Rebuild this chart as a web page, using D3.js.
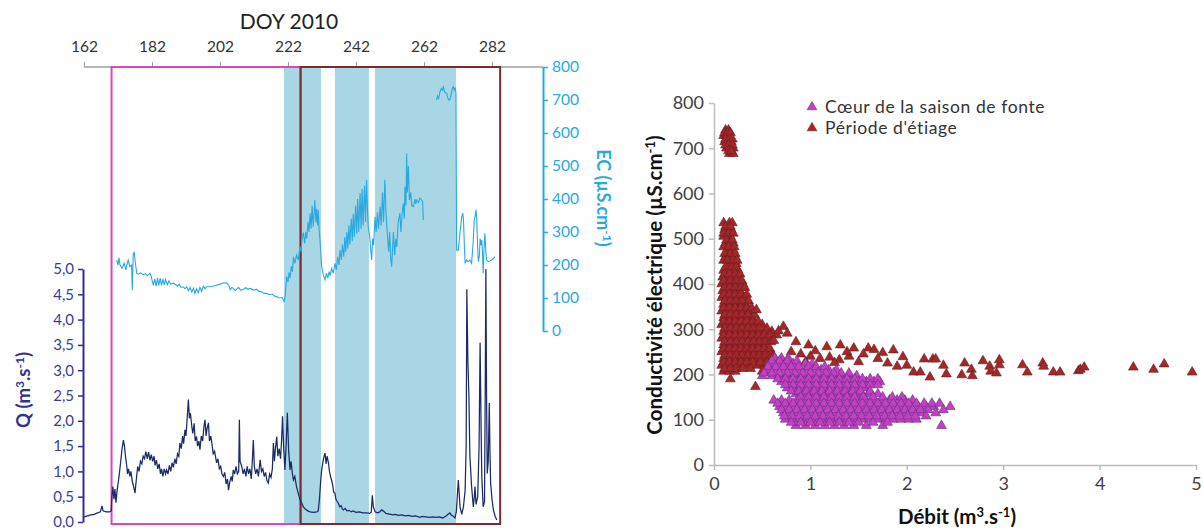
<!DOCTYPE html>
<html><head><meta charset="utf-8">
<script src="https://cdn.jsdelivr.net/npm/d3@7"></script>
<style>body{margin:0;background:#fff}svg{font-family:Lato,"Open Sans",sans-serif}</style>
</head><body>
<script>
// ---------- DATA ----------
const doyTicks = [162,182,202,222,242,262,282];
const qTicks = [0,0.5,1,1.5,2,2.5,3,3.5,4,4.5,5];
const ecTicks = [0,100,200,300,400,500,600,700,800];
const scatXTicks = [0,1,2,3,4,5];
const scatYTicks = [0,100,200,300,400,500,600,700,800];
const bands = [[220.8,231.7],[235.8,245.8],[247.6,271.4]];
const meltPeriod = [170.1,225.7];
const lowPeriod = [225.7,284.4];

const qSeries = [[162,0.1],[163,0.12],[164,0.14],[165,0.15],[166,0.18],[166.8,0.2],[167.3,0.32],[167.6,0.22],[168.5,0.2],[169.5,0.2],[170.0,0.22],[170.2,0.5],[170.5,0.7],[170.8,0.45],[171.1,0.65],[171.4,0.38],[171.7,0.6],[172.0,0.75],[172.4,0.95],[172.8,1.2],[173.2,1.45],[173.6,1.62],[173.9,1.5],[174.2,1.3],[174.5,1.15],[174.8,0.95],[175.1,1.05],[175.5,0.9],[175.8,1.0],[176.2,0.8],[176.6,0.7],[177.0,0.57],[177.4,0.85],[177.8,1.1],[178.2,1.0],[178.6,1.2],[179.0,1.15],[179.4,1.3],[179.8,1.25],[180.2,1.39],[180.6,1.25],[181.0,1.38],[181.4,1.22],[181.8,1.33],[182.2,1.2],[182.6,1.3],[182.9,1.12],[183.3,1.22],[183.7,1.05],[184.1,1.15],[184.5,0.95],[184.8,1.05],[185.2,0.9],[185.6,1.05],[186.0,0.95],[186.3,1.03],[186.7,0.95],[187.1,1.12],[187.5,1.0],[187.9,1.17],[188.3,1.08],[188.7,1.25],[189.1,1.15],[189.5,1.35],[189.9,1.3],[190.2,1.56],[190.6,1.45],[191.0,1.7],[191.3,1.55],[191.7,1.82],[192.0,1.7],[192.3,2.0],[192.7,2.42],[193.0,2.05],[193.3,2.15],[193.7,1.89],[194.0,1.75],[194.4,1.95],[194.7,1.6],[195.1,1.69],[195.4,1.5],[195.8,1.6],[196.1,1.43],[196.5,1.7],[196.9,1.6],[197.3,1.9],[197.6,2.02],[197.9,1.7],[198.2,1.85],[198.6,1.96],[198.9,1.6],[199.3,1.7],[199.6,1.56],[200.0,1.35],[200.4,1.4],[201.0,1.17],[201.4,1.25],[201.8,1.05],[202.2,1.1],[202.6,0.95],[203.0,0.9],[203.4,0.98],[203.8,0.75],[204.2,0.85],[204.5,0.63],[204.9,0.8],[205.3,0.9],[205.6,0.8],[205.9,1.03],[206.3,0.95],[206.7,1.1],[207.1,0.95],[207.5,1.0],[207.7,2.02],[207.9,1.2],[208.4,1.1],[208.8,0.95],[209.2,1.05],[209.6,0.9],[210.0,1.1],[210.4,0.95],[210.8,1.05],[211.2,0.85],[211.5,1.2],[211.8,1.62],[212.1,1.1],[212.5,0.95],[212.9,1.05],[213.3,0.9],[213.8,1.23],[214.2,1.0],[214.6,1.05],[215.0,0.9],[215.4,0.98],[215.8,0.82],[216.2,0.77],[216.6,0.95],[217.0,0.88],[217.4,1.05],[217.7,1.56],[218.0,1.2],[218.3,1.45],[218.7,1.69],[219.0,1.3],[219.4,1.45],[219.8,1.25],[220.1,1.6],[220.4,2.09],[220.7,1.5],[221.1,1.03],[221.5,1.6],[221.8,2.16],[222.2,1.4],[222.6,1.03],[222.9,1.2],[223.3,0.95],[223.6,0.83],[224.0,0.9],[224.5,0.7],[225.0,0.57],[225.5,0.45],[226.0,0.38],[226.5,0.3],[227.0,0.26],[227.8,0.22],[228.5,0.2],[229.5,0.19],[230.5,0.2],[230.9,0.22],[231.3,0.5],[231.6,0.8],[231.9,1.03],[232.3,1.2],[232.6,1.3],[232.9,1.36],[233.2,1.15],[233.5,1.3],[233.9,1.17],[234.2,1.0],[234.5,0.9],[234.8,0.83],[235.1,0.75],[235.4,0.6],[235.8,0.57],[236.1,0.45],[236.5,0.4],[236.8,0.37],[237.2,0.3],[237.6,0.32],[238.0,0.26],[238.3,0.24],[238.8,0.27],[239.3,0.22],[240.0,0.23],[240.6,0.2],[241.2,0.22],[242.0,0.19],[243.0,0.2],[244.0,0.18],[245.1,0.18],[246.0,0.17],[246.5,0.2],[246.8,0.53],[247.1,0.3],[247.6,0.2],[248.3,0.18],[249.0,0.2],[249.5,0.24],[250.0,0.22],[250.8,0.17],[251.5,0.16],[252.2,0.15],[252.9,0.14],[253.5,0.15],[254.5,0.13],[255.5,0.14],[256.5,0.12],[257.5,0.13],[258.5,0.11],[259.5,0.12],[260.8,0.09],[261.5,0.11],[262.5,0.1],[263.5,0.09],[264.5,0.1],[265.5,0.09],[266.5,0.1],[267.5,0.08],[268.5,0.12],[269.0,0.15],[269.6,0.18],[270.0,0.14],[270.5,0.12],[271.1,0.08],[271.5,0.2],[272.1,0.83],[272.6,0.3],[273.1,0.15],[273.6,0.3],[274.1,0.63],[274.4,1.5],[274.6,4.6],[274.9,3.2],[275.2,2.5],[275.5,1.3],[276.0,0.7],[276.5,0.3],[276.8,0.5],[277.0,0.7],[277.3,0.35],[277.8,0.5],[278.2,1.5],[278.5,3.54],[278.8,1.8],[279.0,0.9],[279.4,0.3],[279.8,0.4],[280.0,2.5],[280.2,5.0],[280.4,2.5],[280.6,0.96],[280.9,1.2],[281.2,2.35],[281.4,1.4],[281.6,0.77],[282.0,0.45],[282.4,0.24],[282.9,0.12],[283.4,0.04]];

const ecSeries = [[171.6,215],[172.0,200],[172.3,222],[172.6,200],[173.2,190],[173.8,205],[174.3,185],[174.6,200],[175.0,215],[175.5,195],[176.0,200],[176.2,124],[176.4,200],[176.5,235],[176.8,238],[177.0,215],[177.5,175],[178.0,172],[178.7,176],[179.4,170],[180.0,174],[180.7,168],[181.4,175],[181.8,165],[182.1,150],[182.4,138],[182.8,158],[183.2,136],[183.6,160],[184.0,138],[184.4,160],[184.8,138],[185.2,158],[185.6,140],[186.0,156],[186.5,140],[187.0,152],[187.5,142],[188.3,145],[189.0,140],[189.5,136],[190.0,142],[190.5,132],[191.2,134],[191.7,128],[192.2,134],[192.7,122],[193.2,132],[193.7,118],[194.2,130],[194.6,114],[195.1,128],[195.6,116],[196.1,132],[196.6,120],[197.1,136],[197.6,128],[198.0,134],[199.1,134],[200.5,137],[202.0,142],[203.0,146],[204.0,145],[204.6,138],[205.0,125],[205.5,132],[205.9,129],[206.5,122],[207.0,128],[207.5,132],[208.0,124],[208.9,126],[209.5,131],[210.2,127],[211.0,129],[211.8,124],[212.8,126],[213.5,120],[214.3,118],[215.0,114],[215.7,114],[216.5,110],[217.3,112],[218.0,106],[218.7,104],[219.5,100],[220.2,102],[220.9,89],[221.2,110],[221.6,165],[222.0,148],[222.3,178],[222.6,160],[223.0,196],[223.3,180],[223.6,225],[224.0,205],[224.5,230],[225.0,215],[225.5,255],[225.8,240],[226.2,290],[226.5,296],[226.9,265],[227.2,300],[227.5,280],[227.9,330],[228.2,300],[228.5,357],[228.8,310],[229.1,380],[229.4,316],[229.7,360],[229.9,397],[230.2,330],[230.4,370],[230.7,320],[230.9,367],[231.2,300],[231.4,276],[231.7,230],[231.9,195],[232.4,170],[232.9,155],[233.3,175],[233.7,160],[234.1,180],[234.4,168],[234.8,190],[235.3,175],[235.8,205],[236.2,185],[236.6,225],[237.0,200],[237.3,245],[237.7,215],[238.0,262],[238.4,225],[238.7,285],[239.0,240],[239.3,300],[239.6,250],[239.9,320],[240.2,262],[240.6,340],[240.9,272],[241.2,355],[241.5,285],[241.9,380],[242.2,295],[242.5,400],[242.8,300],[243.2,417],[243.5,310],[243.8,430],[244.1,320],[244.5,440],[244.8,330],[245.1,458],[245.4,360],[245.6,316],[246.0,290],[246.3,250],[246.6,215],[246.9,280],[247.2,260],[247.6,346],[247.9,300],[248.3,360],[248.6,310],[249.1,377],[249.4,320],[249.8,420],[250.1,330],[250.5,458],[250.8,360],[251.2,296],[251.6,240],[251.9,300],[252.2,220],[252.5,195],[252.8,260],[253.0,300],[253.4,230],[253.7,280],[254.0,255],[254.4,330],[254.9,357],[255.2,300],[255.6,360],[255.9,387],[256.2,340],[256.4,437],[256.7,380],[256.9,538],[257.1,420],[257.4,500],[257.7,397],[258.1,420],[258.4,380],[258.9,377],[259.3,400],[259.6,385],[259.9,397],[260.4,390],[260.8,403],[261.3,397],[261.6,392],[261.8,336],[263.5,null],[265.7,700],[266.0,712],[266.3,705],[266.7,725],[267.1,735],[267.4,730],[267.7,740],[268.0,726],[268.3,722],[268.7,720],[269.0,706],[269.3,700],[269.6,700],[269.9,712],[270.3,735],[270.6,740],[270.9,730],[271.2,738],[271.4,720],[271.6,245],[272.1,245],[272.6,300],[273.1,346],[273.4,357],[273.6,340],[273.9,250],[274.1,205],[274.5,215],[275.0,210],[275.5,215],[276.0,205],[276.5,276],[276.8,340],[277.0,346],[277.3,367],[277.5,340],[277.8,250],[278.0,210],[278.3,230],[278.5,280],[278.8,260],[279.0,276],[279.2,240],[279.4,175],[279.7,260],[279.9,296],[280.2,240],[280.4,215],[280.9,210],[281.4,212],[282.0,216],[282.9,225]];

// scatter: rows of [EC, [Q values]]
const etiageRows = [
 [740,[0.12,0.15]],[728,[0.1,0.13,0.16]],[714,[0.11,0.14,0.18]],[700,[0.13,0.17,0.2]],[688,[0.16,0.2]],
 [535,[0.1,0.16,0.19]],[520,[0.11,0.14,0.18]],[505,[0.1,0.17]],[490,[0.12,0.16,0.2]],[475,[0.14,0.2]],
 [460,[0.12,0.17,0.22]],[445,[0.15,0.23]],[430,[0.1,0.18,0.25]],[415,[0.09,0.14,0.2,0.26]],
 [400,[0.08,0.13,0.19,0.25,0.3]],[385,[0.09,0.15,0.21,0.27]],[370,[0.08,0.13,0.19,0.25,0.31]],
 [355,[0.1,0.16,0.22,0.28,0.33]],[340,[0.08,0.13,0.19,0.25,0.31,0.36]],[325,[0.1,0.16,0.22,0.28,0.34,0.4]],
 [310,[0.08,0.13,0.19,0.25,0.31,0.37,0.43,0.5]],[295,[0.1,0.16,0.22,0.28,0.34,0.4,0.46,0.53,0.6]],
 [280,[0.08,0.13,0.19,0.25,0.31,0.37,0.43,0.49,0.56]],[265,[0.1,0.16,0.22,0.28,0.34,0.4,0.46,0.52]],
 [250,[0.08,0.13,0.19,0.25,0.31,0.37,0.43,0.49,0.55]],[235,[0.1,0.16,0.22,0.28,0.34,0.4,0.46,0.52,0.58]],
 [220,[0.08,0.13,0.19,0.25,0.31,0.37,0.45,0.52]],[207,[0.1,0.16,0.22,0.5,0.56]],[190,[0.17]],[173,[0.43]]
];
const etiageRows2 = [
 [734,[0.11,0.14,0.17]],[720,[0.12,0.16,0.19]],[707,[0.12,0.15,0.19]],[694,[0.15,0.18]],
 [527,[0.12,0.17]],[512,[0.1,0.15,0.2]],[497,[0.13,0.19]],[482,[0.1,0.15,0.21]],[467,[0.11,0.17,0.22]],
 [452,[0.1,0.14,0.2,0.24]],[437,[0.12,0.18,0.23]],[422,[0.11,0.16,0.22,0.27]],[407,[0.1,0.17,0.23,0.29]],
 [392,[0.11,0.16,0.22,0.28,0.32]],[377,[0.1,0.16,0.22,0.28,0.34]],[362,[0.11,0.17,0.23,0.29,0.36]],
 [347,[0.1,0.16,0.22,0.28,0.34,0.39]],[332,[0.11,0.17,0.23,0.29,0.35,0.42]],[317,[0.1,0.16,0.22,0.28,0.34,0.4,0.46]],
 [302,[0.11,0.17,0.23,0.29,0.35,0.41,0.47,0.55]],[287,[0.1,0.16,0.22,0.28,0.34,0.4,0.46,0.52,0.58,0.65]],
 [272,[0.11,0.17,0.23,0.29,0.35,0.41,0.47,0.53,0.59]],[257,[0.1,0.16,0.22,0.28,0.34,0.4,0.46,0.52,0.58]],
 [242,[0.11,0.17,0.23,0.29,0.35,0.41,0.47,0.53,0.6]],[227,[0.1,0.16,0.22,0.28,0.34,0.4,0.48,0.55]],
 [213,[0.11,0.17,0.23,0.3,0.38,0.6]]
];
const etiageSparse = [[0.44,343],[0.72,306],[0.67,296],[0.76,291],[0.62,275],[0.85,272],[0.98,265],[1.17,261],[1.31,265],[1.45,258],[1.6,258],[1.66,255],[1.86,254],[1.96,239],[0.8,250],[0.9,245],[1.0,240],[1.1,235],[1.2,238],[1.3,232],[1.4,240],[1.5,228],[1.55,245],[1.7,235],[1.8,225],[1.9,218],[0.95,228],[1.25,226],[0.62,240],[0.7,230],[1.05,252],[1.38,250],[1.75,248],[2.0,220],[2.07,205],[2.14,205],[2.18,234],[2.24,194],[2.27,234],[2.3,234],[2.38,220],[2.41,201],[2.57,199],[2.6,225],[2.67,211],[2.68,197],[2.79,230],[2.86,218],[2.87,207],[2.93,203],[2.96,221],[2.96,232],[3.2,221],[3.25,205],[3.41,225],[3.42,218],[3.52,205],[3.59,205],[3.78,208],[3.8,211],[3.84,216],[4.35,216],[4.56,211],[4.67,223],[4.96,205]];
const coeurRows = [
 [236,[0.63,0.7,0.77]],[224,[0.58,0.66,0.74,0.82,0.95,1.02]],
 [210,[0.55,0.63,0.71,0.79,0.87,0.95,1.03,1.11,1.19,1.27]],
 [197,[0.5,0.6,0.68,0.76,0.84,0.92,1.0,1.08,1.16,1.24,1.32,1.4,1.48]],
 [184,[0.7,0.78,0.86,0.94,1.02,1.1,1.18,1.26,1.34,1.42,1.5,1.58,1.66,1.72]],
 [170,[0.76,0.84,0.92,1.0,1.08,1.16,1.24,1.32,1.4,1.48,1.56]],
 [157,[0.85,0.93,1.01,1.09,1.17,1.25,1.33,1.41,1.5,1.6,1.7]],
 [143,[0.62,0.7,0.78,0.86,0.94,1.02,1.1,1.18,1.26,1.34,1.42,1.5,1.58,1.66,1.74,1.82,1.9,1.98,2.06]],
 [129,[0.68,0.76,0.84,0.92,1.0,1.08,1.16,1.24,1.32,1.4,1.48,1.56,1.64,1.72,1.8,1.88,1.96,2.04,2.12,2.2,2.28,2.45]],
 [115,[0.72,0.8,0.88,0.96,1.04,1.12,1.2,1.28,1.36,1.44,1.52,1.6,1.68,1.76,1.84,1.92,2.0,2.08,2.16,2.3]],
 [101,[0.74,0.82,0.9,0.98,1.06,1.14,1.22,1.3,1.38,1.46,1.54,1.62,1.7,1.78,1.86,1.94,2.02,2.1]],
 [87,[0.85,0.95,1.05,1.15,1.25,1.35,1.45,1.58,1.75,2.36]]
];
const coeurRows2 = [
 [230,[0.6,0.68,0.76,0.86]],[217,[0.56,0.64,0.72,0.8,0.88,0.98,1.06,1.15]],
 [203,[0.52,0.6,0.68,0.76,0.84,0.92,1.0,1.08,1.16,1.24,1.32,1.4]],
 [190,[0.66,0.74,0.82,0.9,0.98,1.06,1.14,1.22,1.3,1.38,1.46,1.54,1.62,1.7]],
 [177,[0.74,0.82,0.9,0.98,1.06,1.14,1.22,1.3,1.38,1.46,1.54,1.62,1.7]],
 [163,[0.8,0.88,0.96,1.04,1.12,1.2,1.28,1.36,1.44,1.52,1.62]],
 [150,[0.9,0.98,1.06,1.14,1.22,1.3,1.38,1.46,1.55,1.65,1.75,1.85,1.95]],
 [136,[0.66,0.74,0.82,0.9,0.98,1.06,1.14,1.22,1.3,1.38,1.46,1.54,1.62,1.7,1.78,1.86,1.94,2.02,2.1,2.18,2.26,2.34]],
 [122,[0.7,0.78,0.86,0.94,1.02,1.1,1.18,1.26,1.34,1.42,1.5,1.58,1.66,1.74,1.82,1.9,1.98,2.06,2.14,2.22,2.38]],
 [108,[0.73,0.81,0.89,0.97,1.05,1.13,1.21,1.29,1.37,1.45,1.53,1.61,1.69,1.77,1.85,1.93,2.01,2.09,2.2]],
 [94,[0.8,0.9,1.0,1.1,1.2,1.3,1.4,1.5,1.65,1.8]]
];
const legendLabels = ["Cœur de la saison de fonte","Période d'étiage"];

// ---------- DRAW ----------
const W=1203,H=528;
const svg=d3.select("body").append("svg").attr("width",W).attr("height",H);
const xDay=d3.scaleLinear().domain([162,282]).range([84,492]);
const yQ=d3.scaleLinear().domain([0,5]).range([522,269]);
const yEC=d3.scaleLinear().domain([0,800]).range([331,67]);
const plotTop=67, plotBottom=524;
const navy="#2e3192", ecBlue="#29a9df";

svg.append("g").selectAll("rect").data(bands).join("rect")
 .attr("x",d=>xDay(d[0])).attr("width",d=>xDay(d[1])-xDay(d[0]))
 .attr("y",plotTop).attr("height",plotBottom-plotTop).attr("fill","#a8d6e5");

svg.append("line").attr("x1",xDay(162)).attr("x2",543).attr("y1",plotTop).attr("y2",plotTop).attr("stroke","#a0a0a0").attr("stroke-width",1.5);
const gTop=svg.append("g").attr("transform",`translate(0,${plotTop})`)
 .call(d3.axisTop(xDay).tickValues(doyTicks).tickSize(5).tickSizeOuter(0));
gTop.select(".domain").remove();
gTop.selectAll(".tick line").attr("stroke","#a0a0a0");
gTop.selectAll(".tick text").attr("font-size",15.5).attr("fill","#333").attr("font-family","Lato").attr("dy","-0.45em");
svg.append("text").attr("x",289).attr("y",29).attr("text-anchor","middle").attr("font-size",21).attr("fill","#222").text("DOY 2010");

svg.append("rect").attr("x",xDay(meltPeriod[0])).attr("width",xDay(meltPeriod[1])-xDay(meltPeriod[0]))
 .attr("y",plotTop).attr("height",plotBottom-plotTop).attr("fill","none").attr("stroke","#d24bb9").attr("stroke-width",2);
svg.append("rect").attr("x",xDay(lowPeriod[0])).attr("width",xDay(lowPeriod[1])-xDay(lowPeriod[0]))
 .attr("y",plotTop).attr("height",plotBottom-plotTop).attr("fill","none").attr("stroke","#7a2b2e").attr("stroke-width",2);

svg.append("path").datum(ecSeries).attr("fill","none").attr("stroke",ecBlue).attr("stroke-width",1.1)
 .attr("d",d3.line().defined(d=>d[1]!=null).x(d=>xDay(d[0])).y(d=>yEC(d[1])));
svg.append("path").datum(qSeries).attr("fill","none").attr("stroke","#1c2a66").attr("stroke-width",1.25)
 .attr("d",d3.line().x(d=>xDay(d[0])).y(d=>yQ(d[1])));

const gQ=svg.append("g").attr("transform","translate(83,0)")
 .call(d3.axisLeft(yQ).tickValues(qTicks).tickSize(5).tickSizeOuter(0).tickFormat(d=>d.toFixed(1).replace(".",",")));
gQ.select(".domain").attr("stroke",navy).attr("stroke-width",2);
gQ.selectAll(".tick line").attr("stroke",navy).attr("stroke-width",1.5);
gQ.selectAll(".tick text").attr("font-size",15).attr("fill","#3c3d8e").attr("font-family","Lato").attr("x",-9);
const qt=svg.append("text").attr("transform","translate(30,390) rotate(-90)").attr("text-anchor","middle")
 .attr("font-size",18.5).attr("font-weight","bold").attr("fill",navy);
qt.append("tspan").text("Q (m");
qt.append("tspan").attr("dy",-6).attr("font-size",12).text("3");
qt.append("tspan").attr("dy",6).text(".s");
qt.append("tspan").attr("dy",-6).attr("font-size",12).text("-1");
qt.append("tspan").attr("dy",6).text(")");

const gE=svg.append("g").attr("transform","translate(543,0)")
 .call(d3.axisRight(yEC).tickValues(ecTicks).tickSize(5).tickSizeOuter(0));
gE.select(".domain").attr("stroke",ecBlue).attr("stroke-width",2);
gE.selectAll(".tick line").attr("stroke",ecBlue).attr("stroke-width",1.5);
gE.selectAll(".tick text").attr("font-size",15.5).attr("fill",ecBlue).attr("font-family","Lato").attr("x",9);
const et=svg.append("text").attr("transform","translate(597,198) rotate(90)").attr("text-anchor","middle")
 .attr("font-size",18).attr("font-weight","bold").attr("fill",ecBlue);
et.append("tspan").text("EC (µS.cm");
et.append("tspan").attr("dy",-6).attr("font-size",12).text("-1");
et.append("tspan").attr("dy",6).text(")");

// ---------- SCATTER ----------
const xQ=d3.scaleLinear().domain([0,5]).range([714,1196]);
const yC=d3.scaleLinear().domain([0,800]).range([465,103]);
const gx=svg.append("g").attr("transform","translate(0,465)")
 .call(d3.axisBottom(xQ).tickValues(scatXTicks).tickSize(5).tickSizeOuter(0).tickFormat(d3.format("d")));
gx.select(".domain").attr("stroke","#bdbdbd").attr("stroke-width",1.5);
gx.selectAll(".tick line").attr("stroke","#bdbdbd").attr("stroke-width",1.5);
gx.selectAll(".tick text").attr("font-size",18).attr("fill","#404040").attr("font-family","Lato").attr("dy","0.95em");
const gy=svg.append("g").attr("transform","translate(714,0)")
 .call(d3.axisLeft(yC).tickValues(scatYTicks).tickSize(5).tickSizeOuter(0));
gy.select(".domain").attr("stroke","#bdbdbd").attr("stroke-width",1.5);
gy.selectAll(".tick line").attr("stroke","#bdbdbd").attr("stroke-width",1.5);
gy.selectAll(".tick text").attr("font-size",18).attr("fill","#404040").attr("font-family","Lato").attr("x",-10);

const etiagePts=[]; etiageRows.concat(etiageRows2).forEach(r=>r[1].forEach(q=>etiagePts.push([q,r[0]]))); etiageSparse.forEach(p=>etiagePts.push(p));
const coeurPts=[]; coeurRows.concat(coeurRows2).forEach(r=>r[1].forEach(q=>coeurPts.push([q,r[0]])));
const tri=d3.symbol().type(d3.symbolTriangle).size(42);
svg.append("g").selectAll("path").data(etiagePts).join("path").attr("d",tri)
 .attr("transform",d=>`translate(${xQ(d[0])},${yC(d[1])})`).attr("fill","#a3282a").attr("stroke","#6d1b1e").attr("stroke-width",0.6);
svg.append("g").selectAll("path").data(coeurPts).join("path").attr("d",tri)
 .attr("transform",d=>`translate(${xQ(d[0])},${yC(d[1])})`).attr("fill","#c63fc0").attr("stroke","#5e2f86").attr("stroke-width",0.6);

const yt=svg.append("text").attr("transform","translate(662,285) rotate(-90)").attr("text-anchor","middle")
 .attr("font-size",20.5).attr("font-weight","bold").attr("fill","#111");
yt.append("tspan").text("Conductivité électrique (µS.cm");
yt.append("tspan").attr("dy",-7).attr("font-size",13).text("-1");
yt.append("tspan").attr("dy",7).text(")");
const xt=svg.append("text").attr("x",957).attr("y",524).attr("text-anchor","middle")
 .attr("font-size",20.5).attr("font-weight","bold").attr("fill","#111");
xt.append("tspan").text("Débit (m");
xt.append("tspan").attr("dy",-7).attr("font-size",13).text("3");
xt.append("tspan").attr("dy",7).text(".s");
xt.append("tspan").attr("dy",-7).attr("font-size",13).text("-1");
xt.append("tspan").attr("dy",7).text(")");

const legColors=[["#c63fc0","#5e2f86"],["#a3282a","#6d1b1e"]];
legendLabels.forEach((t,i)=>{
 const y=107+i*21;
 svg.append("path").attr("d",d3.symbol().type(d3.symbolTriangle).size(40)).attr("transform",`translate(812,${y})`)
  .attr("fill",legColors[i][0]).attr("stroke",legColors[i][1]).attr("stroke-width",0.6);
 svg.append("text").attr("x",825).attr("y",y+6).attr("font-size",17.5).attr("letter-spacing",0.6).attr("fill","#333").text(t);
});
</script>
</body></html>
